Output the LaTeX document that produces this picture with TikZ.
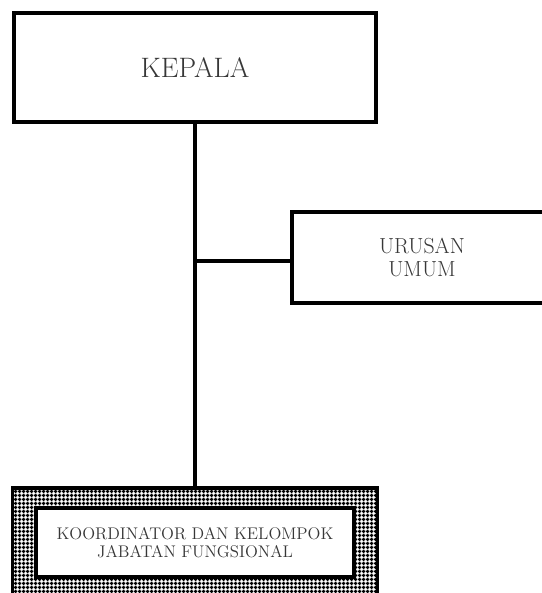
\documentclass[tikz,border=0pt]{standalone}
\usepackage{tikz}
\usetikzlibrary{positioning,calc,patterns.meta}
\definecolor{textgrey}{RGB}{55,55,55}

\tikzdeclarepattern{
  name=framegrid,
  type=uncolored,
  bounding box={(0,0) and (2.6pt,2.6pt)},
  tile size={(2.6pt,2.6pt)},
  code={
    \draw[line width=1.1pt] (0,1.3pt) -- (2.6pt,1.3pt)
                            (1.3pt,0) -- (1.3pt,2.6pt);
  }
}

\begin{document}
\begin{tikzpicture}[
    box/.style={draw, line width=2.2pt, fill=white, inner sep=0pt,
                align=center, text=textgrey},
    link/.style={line width=2.2pt, line cap=rect}
]
    \clip (0,0) rectangle (13.55,14.825);
    \node[box, minimum width=9.05cm, minimum height=2.725cm,
          font=\fontsize{20}{24}\selectfont] (kepala) at (4.875,13.1375) {KEPALA};
    \node[box, minimum width=6.5cm, minimum height=2.275cm,
          font=\fontsize{15.5}{16}\selectfont] (urusan) at (10.55,8.3875) {URUSAN\\UMUM};
    \node[draw, line width=2.4pt, inner sep=0pt, minimum width=9.125cm,
          minimum height=2.725cm, pattern={framegrid}] (frame) at (4.875,1.2625) {};
    \node[box, line width=2.6pt, minimum width=7.95cm, minimum height=1.725cm,
          font=\fontsize{12}{13}\selectfont] (koord) at (frame.center)
          {KOORDINATOR DAN KELOMPOK\\JABATAN FUNGSIONAL};
    \coordinate (branch) at (4.875,8.3);
    \draw[link] (kepala.south) -- (frame.north);
    \draw[link] (branch) -- (branch -| urusan.west);
\end{tikzpicture}
\end{document}
